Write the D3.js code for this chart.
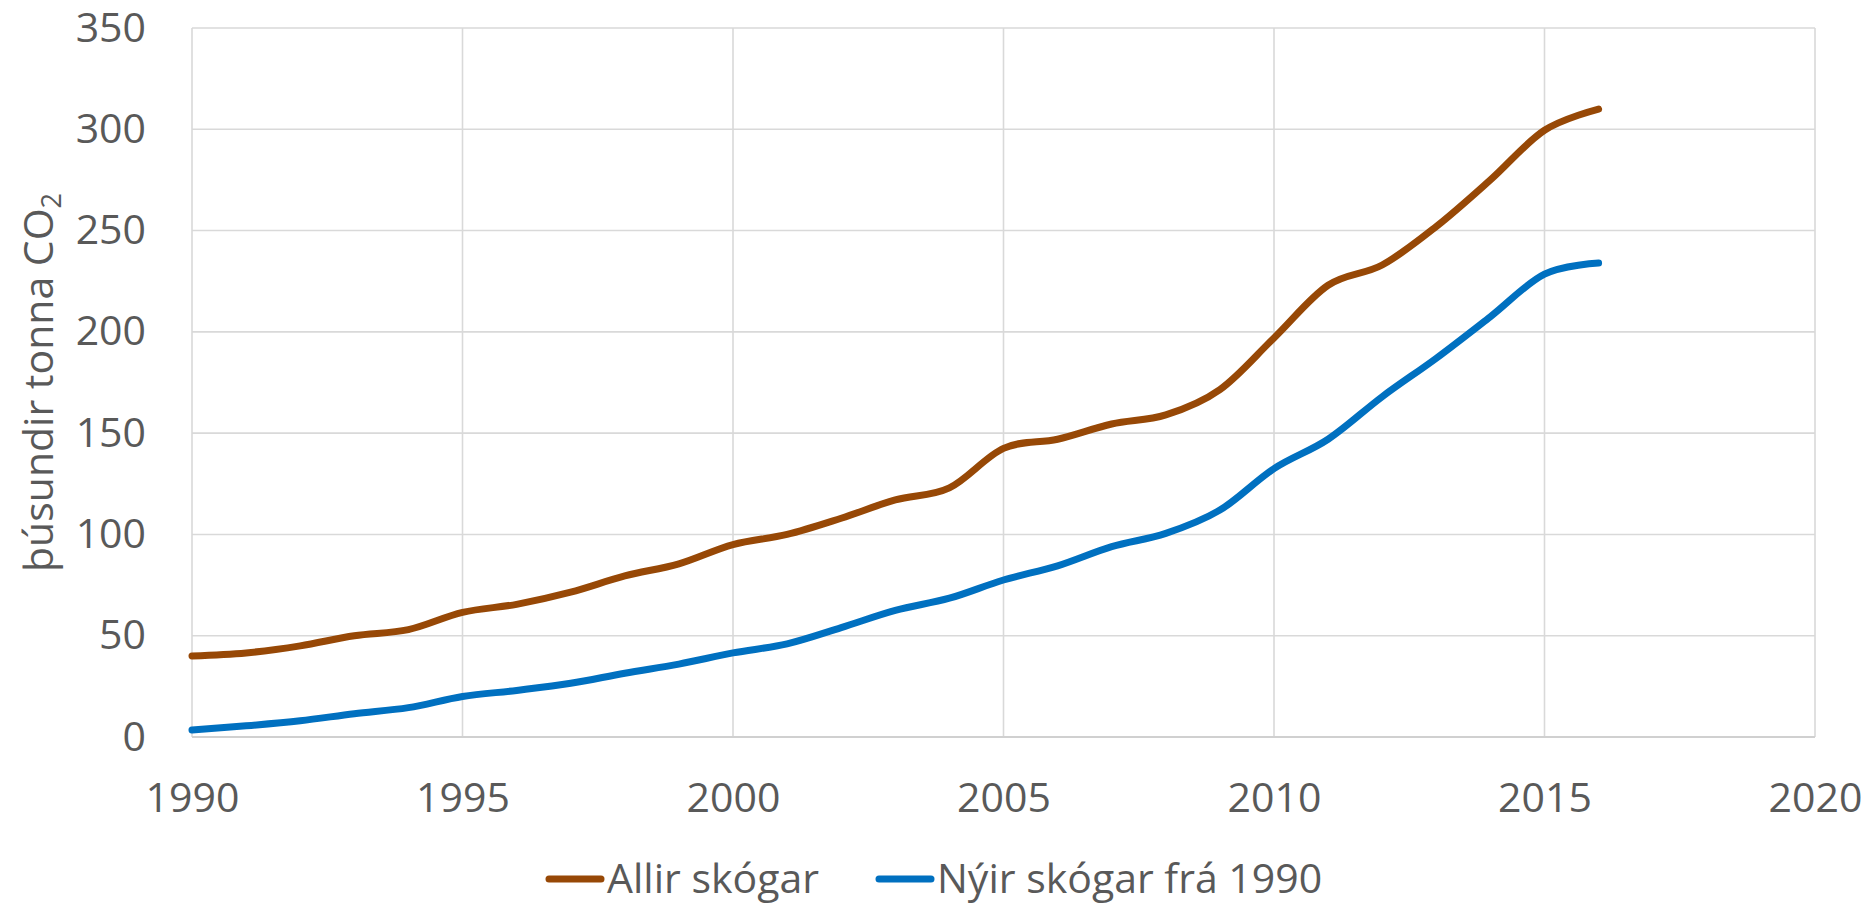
<!DOCTYPE html>
<html lang="is">
<head>
    <meta charset="UTF-8">
    <title>Skógar CO2</title>
    <script src="https://d3js.org/d3.v7.min.js"></script>
    <style>
        body{
            margin: 0;
            background: #fff;
        }
        svg text{
            font-family: "Open Sans", sans-serif;
            fill: #595959;
        }
        .axis path{
            display: none;
        }
        .axis text{
            font-size: 41px;
        }
        .grid line{
            stroke: #d9d9d9;
            stroke-width: 1.6;
        }
    </style>
</head>
<body>
    <script>
        // gögn lesin af myndinni
        var years = [1990,1991,1992,1993,1994,1995,1996,1997,1998,1999,2000,2001,2002,2003,2004,2005,2006,2007,2008,2009,2010,2011,2012,2013,2014,2015,2016];
        var allir = [40,41.5,45,50,53,61.5,65.5,71.5,79.5,85.5,95,100,108,117,123,142.5,147,154.5,159,171.5,197,223,233,252,275,299.5,310];
        var nyir = [3.5,5.5,8,11.5,14.5,20,23,26.5,31.5,36,41.5,46,54,62.5,68.5,77.5,84.5,94,100.5,112,132.5,147,168,187,207.5,228.5,234];
        var seriesNames = ["Allir skógar","Nýir skógar frá 1990"];
        var seriesColors = ["#974806","#0070C0"];
        var xTicks = [1990,1995,2000,2005,2010,2015,2020];
        var yTicks = [0,50,100,150,200,250,300,350];

        var w = 1873;
        var h = 904;
        // plot area (window.top is reserved, so other names)
        var pLeft = 192, pRight = 1815, pTop = 28, pBottom = 737;

        var svg = d3.select("body")
            .append("svg")
            .attr("width",w)
            .attr("height",h);

        var xScale = d3.scaleLinear()
            .domain([1990,2020])
            .range([pLeft,pRight]);

        var yScale = d3.scaleLinear()
            .domain([0,350])
            .range([pBottom,pTop]);

        // rúðunet
        var grid = svg.append("g").classed("grid",true);
        grid.selectAll(".hline")
            .data(yTicks)
            .enter()
            .append("line")
            .attr("x1",pLeft)
            .attr("x2",pRight)
            .attr("y1",d => yScale(d))
            .attr("y2",d => yScale(d));
        grid.selectAll(".vline")
            .data(xTicks)
            .enter()
            .append("line")
            .attr("x1",d => xScale(d))
            .attr("x2",d => xScale(d))
            .attr("y1",pTop)
            .attr("y2",pBottom);

        // x-ás lína
        svg.append("line")
            .attr("x1",pLeft)
            .attr("x2",pRight)
            .attr("y1",pBottom)
            .attr("y2",pBottom)
            .attr("stroke","#d0d0d0")
            .attr("stroke-width",2.2);

        var xAxis = d3.axisBottom(xScale)
            .tickValues(xTicks)
            .tickFormat(d3.format("d"))
            .tickSize(0)
            .tickPadding(46);

        var yAxis = d3.axisLeft(yScale)
            .tickValues(yTicks)
            .tickSize(0)
            .tickPadding(46);

        svg.append("g")
            .classed("axis",true)
            .attr("transform",`translate(0, ${pBottom})`)
            .call(xAxis);

        svg.append("g")
            .classed("axis",true)
            .attr("transform",`translate(${pLeft}, 0)`)
            .call(yAxis);

        svg.selectAll(".axis text").attr("fill",null);

        // titill y-áss
        var yTitle = svg.append("text")
            .attr("transform",`translate(53, ${(pTop+pBottom)/2}) rotate(-90)`)
            .attr("text-anchor","middle")
            .style("font-size","41px");
        yTitle.append("tspan").text("þúsundir tonna CO");
        yTitle.append("tspan").text("2")
            .attr("dy",8)
            .style("font-size","27px");

        // línur
        var line = d3.line()
            .x((d,i) => xScale(years[i]))
            .y(d => yScale(d))
            .curve(d3.curveCardinal.tension(0));

        [allir,nyir].forEach(function(vals,k){
            svg.append("path")
                .datum(vals)
                .attr("d",line)
                .attr("fill","none")
                .attr("stroke",seriesColors[k])
                .attr("stroke-width",7)
                .attr("stroke-linecap","round")
                .attr("stroke-linejoin","round");
        });

        // skýringar
        var legendX = [549,879];
        var legend = svg.selectAll(".legend")
            .data(seriesNames)
            .enter()
            .append("g")
            .attr("class","legend")
            .attr("transform",(d,i) => `translate(${legendX[i]}, 879)`);

        legend.append("line")
            .attr("x1",0)
            .attr("x2",52)
            .attr("stroke",(d,i) => seriesColors[i])
            .attr("stroke-width",7)
            .attr("stroke-linecap","round");

        legend.append("text")
            .attr("x",58)
            .attr("y",14)
            .style("font-size","41px")
            .text(d => d);
    </script>
</body>
</html>
